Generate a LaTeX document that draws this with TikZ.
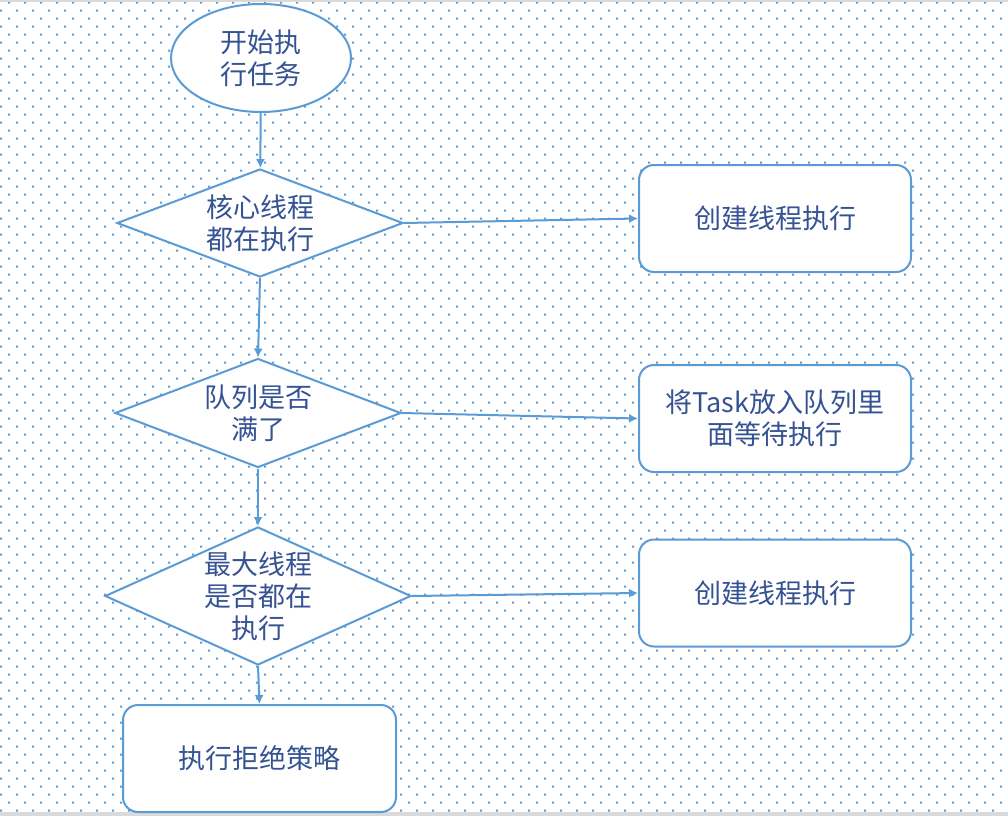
\documentclass[tikz,border=0pt]{standalone}
\usepackage{fontspec}
\newfontfamily\cnfont{Noto Sans CJK SC}
\usetikzlibrary{arrows.meta,shapes.geometric}
\definecolor{lineblue}{RGB}{91,155,213}
\definecolor{textblue}{RGB}{52,82,148}
\definecolor{bandgray}{RGB}{218,218,218}

\begin{document}
\begin{tikzpicture}[x=1pt,y=-1pt,>={Latex[length=9pt,width=9pt]},
  font=\cnfont\fontsize{27pt}{32pt}\selectfont,
  startnode/.style={ellipse,draw=lineblue,line width=2pt,fill=white,text=textblue,
    align=center,inner sep=0pt,minimum width=180pt,minimum height=108pt},
  decision/.style={diamond,draw=lineblue,line width=2pt,fill=white,text=textblue,
    align=center,inner sep=0pt},
  taskbox/.style={rectangle,rounded corners=15pt,draw=lineblue,line width=2pt,
    fill=white,text=textblue,align=center,minimum width=272pt,minimum height=107pt},
  flow/.style={->,draw=lineblue,line width=2pt}]
% background with dots
\useasboundingbox (0,0) rectangle (1008,816);
\fill[white] (0,0) rectangle (1008,816);
\foreach \y in {2.7,18.7,...,811}{
  \fill[lineblue] foreach \x in {9,25,...,1008} {(\x-1,\y-1) rectangle ++(2,2)};}
\foreach \y in {10.7,26.7,...,811}{
  \fill[lineblue] foreach \x in {1,17,...,1008} {(\x-1,\y-1) rectangle ++(2,2)};}
\fill[bandgray] (0,0) rectangle (1008,2);
\fill[bandgray] (0,812) rectangle (1008,816);
% nodes
\node[startnode] (start) at (261,58) {开始执\\行任务};
\node[decision,aspect=2.65,minimum width=286pt,minimum height=108pt] (core) at (260,223) {核心线程\\都在执行};
\node[taskbox] (create1) at (775,218.5) {创建线程执行};
\node[decision,aspect=2.62,minimum width=286pt,minimum height=109pt] (queue) at (258,413) {队列是否\\满了};
\node[taskbox] (enqueue) at (775,418.5) {将Task放入队列里\\面等待执行};
\node[decision,aspect=2.22,inner ysep=-8pt,minimum width=306pt,minimum height=138pt] (maxpool) at (258,596) {最大线程\\是否都在\\执行};
\node[taskbox] (create2) at (775,593) {创建线程执行};
\node[taskbox,minimum width=273pt] (reject) at (259.5,758.5) {执行拒绝策略};
% connectors
\draw[flow] (start) -- (core);
\draw[flow] (core.east) -- (create1.west);
\draw[flow] (core.south) -- (queue.north);
\draw[flow] (queue.east) -- (enqueue.west);
\draw[flow] (queue.south) -- (maxpool.north);
\draw[flow] (maxpool.east) -- (create2.west);
\draw[flow] (maxpool.south) -- (reject.north);
\end{tikzpicture}
\end{document}
